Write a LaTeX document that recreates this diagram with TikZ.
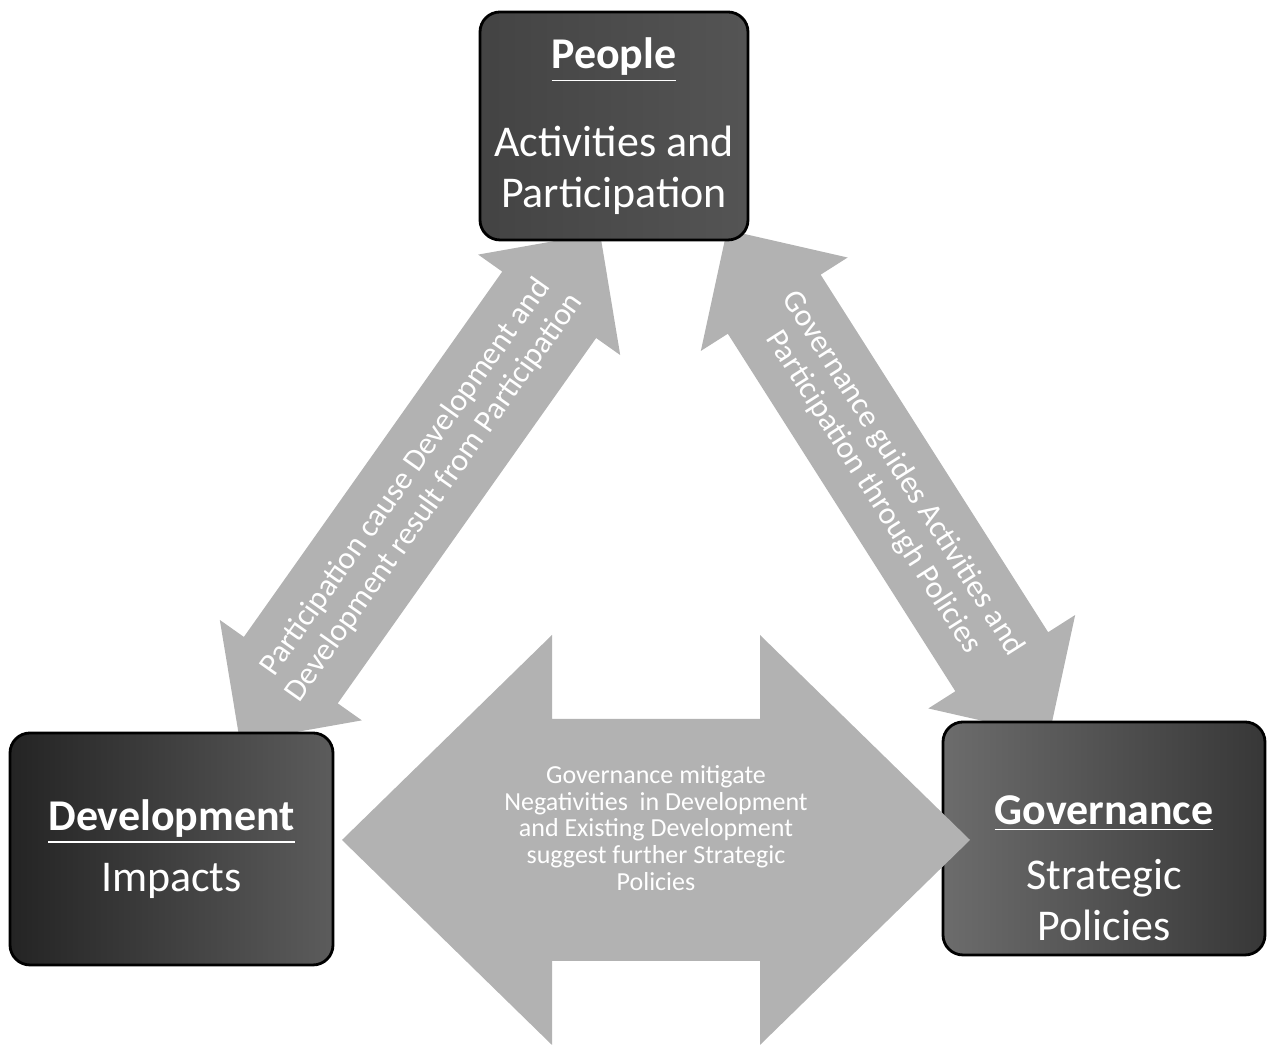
\documentclass[tikz,border=0pt]{standalone}
\usepackage{fontspec}
\setmainfont{Carlito}
\usetikzlibrary{calc}

\definecolor{peoplefill}{gray}{0.33}
\definecolor{devfill}{gray}{0.2}
\definecolor{govfill}{gray}{0.36}
\definecolor{arrowgray}{gray}{0.7}

% two-headed block arrow from #1 to #2: head length #3, half head width #4, half shaft width #5
\newcommand{\twoway}[5]{%
  \fill[arrowgray] (#1) -- ($(#1)!#3!(#2)!#4!90:(#2)$) -- ($(#1)!#3!(#2)!#5!90:(#2)$)
    -- ($(#2)!#3!(#1)!#5!-90:(#1)$) -- ($(#2)!#3!(#1)!#4!-90:(#1)$) -- (#2)
    -- ($(#2)!#3!(#1)!#4!90:(#1)$) -- ($(#2)!#3!(#1)!#5!90:(#1)$)
    -- ($(#1)!#3!(#2)!#5!-90:(#2)$) -- ($(#1)!#3!(#2)!#4!-90:(#2)$) -- cycle;}

\begin{document}
\begin{tikzpicture}[line join=round,
    box/.style={draw=black, line width=0.8pt, rounded corners=0.2cm, text=white,
      align=center, inner sep=0pt, font=\fontsize{12.5}{14.5}\selectfont},
    arrowtext/.style={text=white, align=center, inner sep=0pt},
    slanttext/.style={arrowtext, midway, sloped, font=\fontsize{9}{10}\selectfont}
  ]
  % Page frame, same proportions as the original
  \useasboundingbox (0,0) rectangle (12.69,10.57);

  % Arrow tips (the boxes cover most of them)
  \coordinate (devtip) at (2.40,3.15);
  \coordinate (peopletipl) at (6.00,8.24);
  \coordinate (peopletipr) at (7.27,8.27);
  \coordinate (govtip) at (10.49,3.21);
  \coordinate (devtipr) at (3.42,2.17);
  \coordinate (govtipl) at (9.70,2.17);

  % Development <-> People
  \twoway{devtip}{peopletipl}{0.88cm}{0.87cm}{0.575cm}
  \path (devtip) -- (peopletipl) node[slanttext] (devpeople)
    {Participation cause Development and\\Development result from Participation};

  % People <-> Governance
  \twoway{peopletipr}{govtip}{0.88cm}{0.87cm}{0.55cm}
  \path (peopletipr) -- (govtip) node[slanttext] (peoplegov)
    {Governance guides Activities and\\Participation through Policies};

  % The three boxes
  \node[box, left color=peoplefill!80!black, right color=peoplefill,
    minimum width=2.68cm, minimum height=2.28cm] (people) at (6.14,9.31)
    {\underline{\textbf{People}}\\[10.5pt]Activities and\\Participation};
  \node[box, left color=devfill!70!black, right color=devfill!80!white,
    minimum width=3.23cm, minimum height=2.32cm] (dev) at (1.715,2.08)
    {\underline{\textbf{Development}}\\[3pt]Impacts};
  \node[box, left color=govfill!90!white, right color=govfill!60!black,
    minimum width=3.22cm, minimum height=2.33cm] (gov) at (11.04,2.185)
    {\rule{0pt}{25pt}\underline{\textbf{Governance}}\\[4pt]Strategic\\Policies};

  % Development <-> Governance (drawn over the boxes)
  \twoway{devtipr}{govtipl}{2.1cm}{2.05cm}{1.21cm}
  \path (devtipr) -- (govtipl) node[arrowtext, midway, yshift=0.12cm,
      font=\fontsize{7.4}{7.6}\selectfont] (devgov)
    {Governance mitigate\\Negativities\ \ in Development\\and Existing Development\\suggest further Strategic\\Policies};
\end{tikzpicture}
\end{document}
